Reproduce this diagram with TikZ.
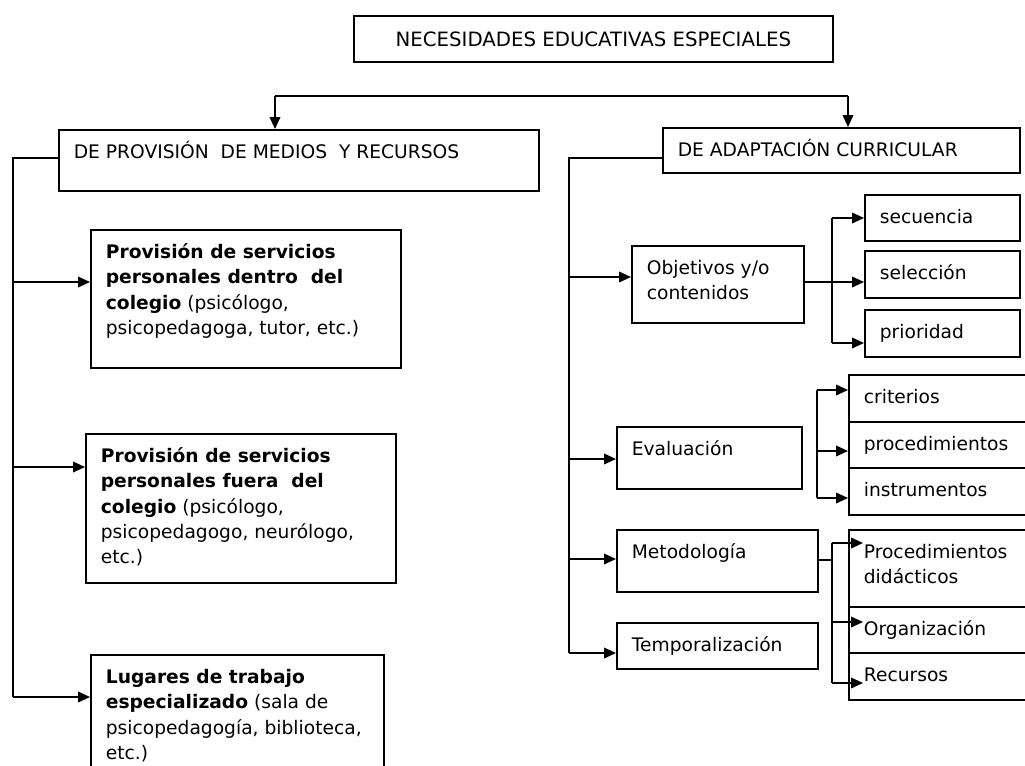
\documentclass[tikz,border=0pt]{standalone}
\usepackage{fontspec}
\setmainfont{DejaVu Sans}
\usetikzlibrary{arrows.meta}

\newdimen\pxu \pxu=0.75pt
% text of a box: width and height in pixels, text at the top
\newcommand{\bt}[3]{\parbox[t][\dimexpr#2\pxu-22\pxu\relax][t]{\dimexpr#1\pxu-30\pxu\relax}{\raggedright\strut#3}}

\tikzset{
  box/.style={draw, line width=1.3pt, anchor=north west, inner xsep=11.25pt, inner ysep=8.25pt, font=\fontsize{14}{19}\selectfont},
  titlebox/.style={draw, line width=1.3pt, anchor=north west, inner sep=0pt, font=\fontsize{14.8}{19}\selectfont},
  con/.style={line width=1.2pt},
  arr/.style={line width=1.2pt, -{Triangle[length=9pt,width=8pt]}}
}

\begin{document}
\begin{tikzpicture}[x=0.75pt,y=-0.75pt]
\useasboundingbox (0,0) rectangle (1025,765);
\clip (0,0) rectangle (1025,765);

\node[titlebox, minimum width=359.25pt, minimum height=34.5pt] (nee) at (353,15) {NECESIDADES EDUCATIVAS ESPECIALES};

\node[box] (prov) at (58,129) {\bt{480}{61}{DE PROVISIÓN~ DE MEDIOS~ Y RECURSOS}};
\node[box] (adap) at (662,127) {\bt{357}{45}{DE ADAPTACIÓN CURRICULAR}};

% medios y recursos
\node[box] (dentro) at (90,229) {\bt{310}{138}{\textbf{Provisión de servicios\\ personales dentro~ del\\ colegio} (psicólogo,\\ psicopedagoga, tutor, etc.)}};
\node[box] (fuera) at (85,433) {\bt{310}{149}{\textbf{Provisión de servicios\\ personales fuera~ del\\ colegio} (psicólogo,\\ psicopedagogo, neurólogo,\\ etc.)}};
\node[box] (lugares) at (90,654) {\bt{293}{130}{\textbf{Lugares de trabajo\\ especializado} (sala de\\ psicopedagogía, biblioteca,\\ etc.)}};

% adaptacion curricular
\node[box] (obj) at (631,245) {\bt{172}{77}{Objetivos y/o\\ contenidos}};
\node[box] (eval) at (616,426) {\bt{185}{62}{Evaluación}};
\node[box] (met) at (616,529) {\bt{201}{62}{Metodología}};
\node[box] (temp) at (616,622) {\bt{201}{46}{Temporalización}};

\node[box] (sec) at (864,194) {\bt{155}{46}{secuencia}};
\node[box] (sel) at (864,250) {\bt{155}{47}{selección}};
\node[box] (pri) at (864,309) {\bt{155}{47}{prioridad}};

\node[box] (crit) at (848,374) {\bt{192}{47}{criterios}};
\node[box] (proc) at (848,421) {\bt{192}{46}{procedimientos}};
\node[box] (inst) at (848,467) {\bt{192}{47}{instrumentos}};

\node[box] (did) at (848,529) {\bt{192}{77}{Procedimientos\\ didácticos}};
\node[box] (org) at (848,606) {\bt{192}{46}{Organización}};
\node[box] (rec) at (848,652) {\bt{192}{47}{Recursos}};

% top split
\coordinate (ta) at (275,96);
\coordinate (tb) at (848,96);
\draw[con] (ta) -- (tb);
\draw[arr] (ta) -- (ta |- prov.north);
\draw[arr] (tb) -- (tb |- adap.north);

% left trunk
\coordinate (l0) at (13,158);
\coordinate (l1) at (13,282);
\coordinate (l2) at (13,467);
\coordinate (l3) at (13,697);
\draw[con] (prov.west |- l0) -- (l0) -- (l3);
\foreach \c/\n in {l1/dentro,l2/fuera,l3/lugares}
  \draw[arr] (\c) -- (\c -| \n.west);

% right trunk
\coordinate (r0) at (569,158);
\coordinate (r1) at (569,277);
\coordinate (r2) at (569,459);
\coordinate (r3) at (569,559);
\coordinate (r4) at (569,653);
\draw[con] (adap.west |- r0) -- (r0) -- (r4);
\foreach \c/\n in {r1/obj,r2/eval,r3/met,r4/temp}
  \draw[arr] (\c) -- (\c -| \n.west);

% objetivos
\coordinate (o0) at (832,282);
\coordinate (o1) at (832,218);
\coordinate (o3) at (832,343);
\draw[arr] (obj.east |- o0) -- (o0 -| sel.west);
\draw[con] (o1) -- (o3);
\draw[arr] (o1) -- (o1 -| sec.west);
\draw[arr] (o3) -- (o3 -| pri.west);

% evaluacion
\coordinate (e1) at (817,390);
\coordinate (e2) at (817,451);
\coordinate (e3) at (817,498);
\draw[con] (e1) -- (e3);
\foreach \c/\n in {e1/crit,e2/proc,e3/inst}
  \draw[arr] (\c) -- (\c -| \n.west);

% metodologia
\coordinate (m0) at (832,560);
\coordinate (m1) at (832,543);
\coordinate (m2) at (832,622);
\coordinate (m3) at (832,683);
\draw[con] (met.east |- m0) -- (m0);
\draw[con] (m1) -- (m3);
\foreach \c/\n in {m1/did,m2/org,m3/rec}
  \draw[arr, shorten >=-11.25pt] (\c) -- (\c -| \n.west);

\end{tikzpicture}
\end{document}
